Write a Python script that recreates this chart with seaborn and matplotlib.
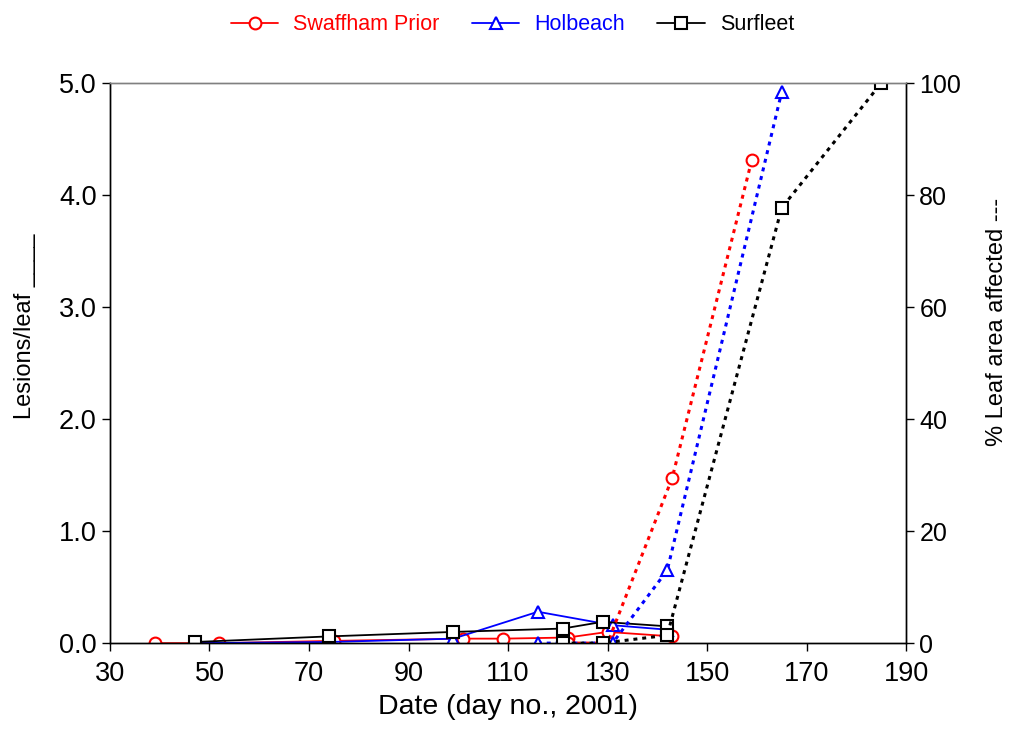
import numpy as np
import matplotlib
matplotlib.use('Agg')
import matplotlib.pyplot as plt
import seaborn as sns

sns.set_style('ticks')
plt.rcParams['font.family'] = ['Liberation Sans', 'DejaVu Sans']

# lesions per leaf (solid lines, left axis)
swaffham_days = [39, 52, 75, 101, 109, 122, 130, 143]
swaffham_lesions = [0.0, 0.0, 0.02, 0.04, 0.04, 0.05, 0.10, 0.06]
holbeach_days = [47, 74, 99, 116, 131, 142]
holbeach_lesions = [0.0, 0.01, 0.04, 0.28, 0.16, 0.12]
surfleet_days = [47, 74, 99, 121, 129, 142]
surfleet_lesions = [0.01, 0.06, 0.10, 0.13, 0.19, 0.15]

# % leaf area affected (dotted lines, right axis)
swaffham_pct_days = [122, 130, 143, 159]
swaffham_pct = [0.0, 0.0, 29.5, 86.3]
holbeach_pct_days = [116, 131, 142, 165]
holbeach_pct = [0.0, 0.0, 13.0, 98.4]
surfleet_pct_days = [121, 129, 142, 165, 185]
surfleet_pct = [0.0, 0.0, 1.4, 77.7, 100.0]

names = ['Swaffham Prior', 'Holbeach', 'Surfleet']
colors = ['#ff0000', '#0000ff', '#000000']
markers = ['o', '^', 's']

fig = plt.figure(figsize=(10.09, 7.35), dpi=100)
ax = fig.add_axes([0.109, 0.125, 0.789, 0.762])
ax2 = ax.twinx()

lesion_sets = [(swaffham_days, swaffham_lesions),
               (holbeach_days, holbeach_lesions),
               (surfleet_days, surfleet_lesions)]
pct_sets = [(swaffham_pct_days, swaffham_pct),
            (holbeach_pct_days, holbeach_pct),
            (surfleet_pct_days, surfleet_pct)]

for (d, v), name, c, m in zip(lesion_sets, names, colors, markers):
    sns.lineplot(x=d, y=v, ax=ax, color=c, marker=m, markersize=8.5,
                 markerfacecolor='white', markeredgecolor=c,
                 markeredgewidth=1.5, lw=1.3, label=name, legend=False,
                 sort=False)

for (d, v), c, m in zip(pct_sets, colors, markers):
    sns.lineplot(x=d, y=v, ax=ax2, color=c, marker=m, markersize=8.5,
                 markerfacecolor='white', markeredgecolor=c,
                 markeredgewidth=1.5, lw=2.2, linestyle=(0, (1.3, 1.6)),
                 legend=False, sort=False)

ax.set_xlim(30, 190)
ax.set_xticks(np.arange(30, 191, 20))
ax.set_ylim(0, 5)
ax.set_yticks(np.arange(0, 5.01, 1))
ax.set_yticklabels(['%.1f' % t for t in np.arange(0, 5.01, 1)])
ax2.set_ylim(0, 100)
ax2.set_yticks(np.arange(0, 101, 20))

for a in (ax, ax2):
    a.tick_params(direction='out', length=6, width=1, colors='black',
                  labelsize=18)
    for s in a.spines.values():
        s.set_color('black')
        s.set_linewidth(1)
    a.spines['top'].set_color('#808080')
ax.tick_params(axis='y', labelsize=19.5)
ax.tick_params(axis='x', labelsize=19.5, pad=7)

ax.set_xlabel('Date (day no., 2001)', fontsize=20.5, color='black',
              labelpad=5)
fig.text(25 / 1009, 1 - 326 / 735, 'Lesions/leaf ____', fontsize=17,
         rotation=90, ha='center', va='center', color='black')
fig.text(997 / 1009, 1 - 322 / 735, '% Leaf area affected ---',
         fontsize=17, rotation=90, ha='center', va='center', color='black')

handles, labels = ax.get_legend_handles_labels()
fig.legend(handles, labels, loc='center', bbox_to_anchor=(0.508, 0.966),
           ncol=3, frameon=False, fontsize=15.5, labelcolor='linecolor',
           handlelength=2.2, handletextpad=0.7, columnspacing=1.5,
           numpoints=1)

fig.savefig('out.png', dpi=100)
